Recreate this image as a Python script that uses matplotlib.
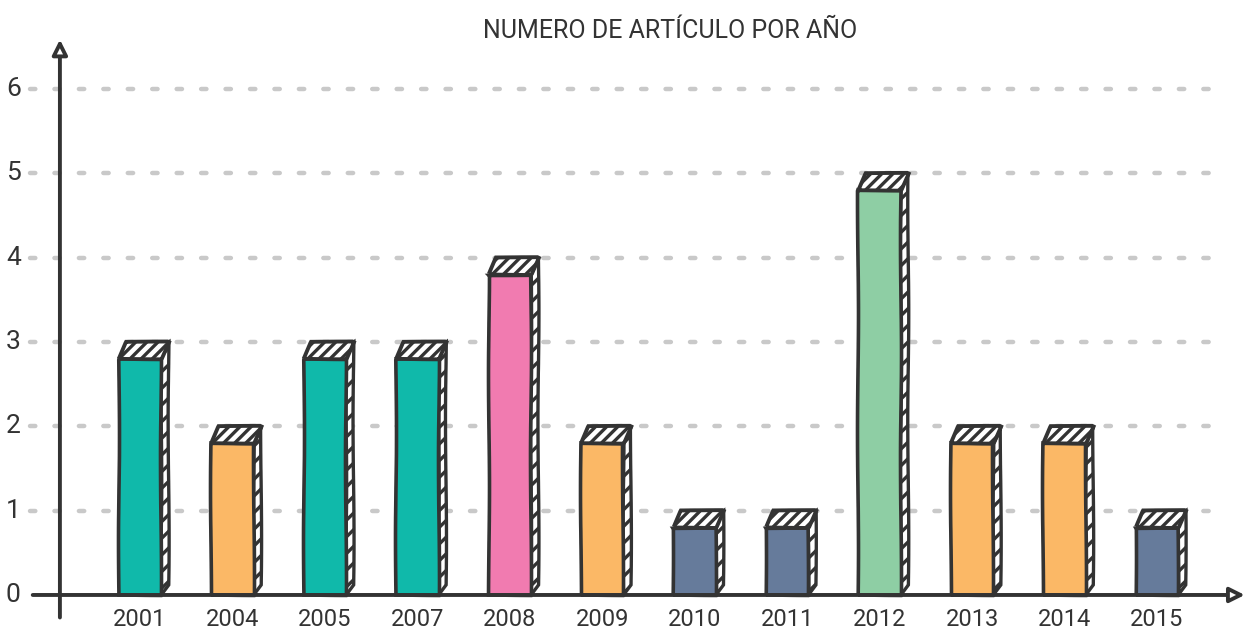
import matplotlib.pyplot as plt
from matplotlib.patches import Polygon

# Data
years = ['2001', '2004', '2005', '2007', '2008', '2009', '2010', '2011', '2012', '2013', '2014', '2015']
articles = [3, 2, 3, 3, 4, 2, 1, 1, 5, 2, 2, 1]
colors = ['#10b9aa', '#fbb866', '#10b9aa', '#10b9aa', '#f17bb0', '#fbb866',
          '#667b9b', '#667b9b', '#8ecea4', '#fbb866', '#fbb866', '#667b9b']
yticks = [0, 1, 2, 3, 4, 5, 6]

ink = '#333333'
font = ['Roboto', 'DejaVu Sans']
plt.rcParams['hatch.linewidth'] = 2.4
plt.rcParams['hatch.color'] = ink

fig = plt.figure(figsize=(12.58, 6.40), dpi=100)
ax = fig.add_axes([0, 0, 1, 1])
ax.set_xlim(-1.514, 12.093)
ax.set_ylim(-0.534, 7.056)
ax.axis('off')

# dotted grid
for y in yticks[1:]:
    ax.plot([-1.19, 11.73], [y, y], color='#c9c9c9', lw=3.2,
            dashes=(1.2, 4.3), dash_capstyle='round', zorder=1)
for y in yticks:
    ax.text(-1.37, y, str(y), ha='center', va='center', fontsize=19,
            color=ink, family=font)

# axes with open arrow heads
ax.annotate('', xy=(-0.866, 6.62), xytext=(-0.866, -0.30),
            arrowprops=dict(arrowstyle='-|>,head_length=0.9,head_width=0.45',
                            lw=2.8, color=ink, fc='white'), zorder=5)
ax.annotate('', xy=(11.98, 0), xytext=(-1.19, 0),
            arrowprops=dict(arrowstyle='-|>,head_length=0.9,head_width=0.45',
                            lw=2.8, color=ink, fc='white'), zorder=5)

# bars: front face, hatched side and hatched top cap
w = 0.46
dx = 0.08
cap = 0.2
x = list(range(len(years)))
fronts = [v - cap for v in articles]
bars = ax.bar(x, fronts, width=w, color=colors, edgecolor=ink, linewidth=2.6, zorder=3)
for b in bars:
    b.set_sketch_params(0.5, 250, 2)

for xi, v in zip(x, articles):
    x0 = xi - w / 2
    x1 = xi + w / 2
    side = Polygon([(x1, 0), (x1 + dx, 0.12), (x1 + dx, v), (x1, v - cap)],
                   closed=True, fc='white', ec=ink, lw=2.4, hatch='//', zorder=2)
    top = Polygon([(x0, v - cap), (x1, v - cap), (x1 + dx, v), (x0 + dx, v)],
                  closed=True, fc='white', ec=ink, lw=2.8, hatch='///', zorder=4)
    side.set_sketch_params(0.5, 250, 2)
    top.set_sketch_params(0.5, 250, 2)
    ax.add_patch(side)
    ax.add_patch(top)

for xi, label in zip(x, years):
    ax.text(xi, -0.29, label, ha='center', va='center', fontsize=17,
            color=ink, family=font)

ax.text(0.533, 0.952, 'NUMERO DE ARTÍCULO POR AÑO', transform=fig.transFigure,
        ha='center', va='center', fontsize=18, color=ink, family=font)

fig.savefig('out.png', dpi=100)
